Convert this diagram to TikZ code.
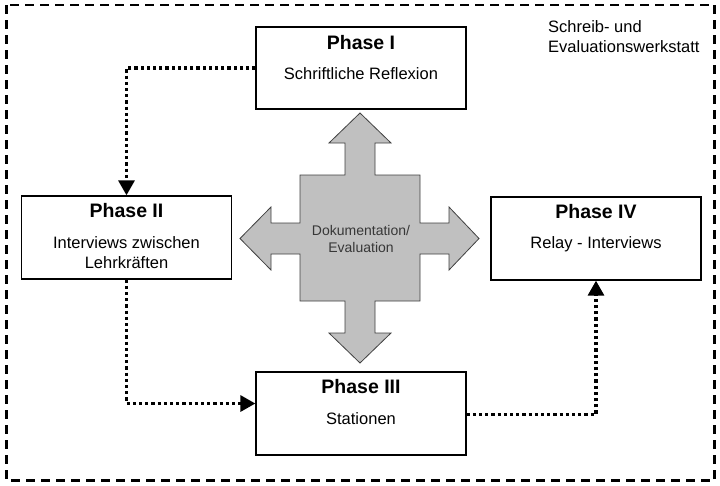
\documentclass[tikz,border=0pt]{standalone}
\usepackage{fontspec}
\setmainfont{Liberation Sans}
\usetikzlibrary{arrows.meta}
\definecolor{crossgray}{RGB}{192,192,192}
\definecolor{crosstext}{RGB}{55,55,55}
\begin{document}
\begin{tikzpicture}[x=1pt,y=-1pt,
  phasebox/.style={draw=black, line width=1.3pt, fill=white, minimum width=210pt, minimum height=83pt, inner sep=0pt},
  phasetitle/.style={anchor=base, inner sep=0pt, font=\fontsize{19.5}{22}\selectfont\bfseries},
  phasebody/.style={anchor=base, inner sep=0pt, font=\fontsize{16.5}{20}\selectfont},
  crosslabel/.style={anchor=base, inner sep=0pt, text=crosstext, font=\fontsize{14}{17}\selectfont},
  flow/.style={line width=3.2pt, dash pattern=on 3.2pt off 3pt, -{Triangle[width=16pt,length=15pt]}},
]
\useasboundingbox (0,0) rectangle (720,485);
% outer frame
\draw[line width=2.2pt, dash pattern=on 9pt off 6pt] (6.5,5) rectangle (714.5,480.5);
\node[phasebody, anchor=base west] (w1) at (548,32) {Schreib- und};
\node[phasebody, anchor=base west] (w2) at (548,52) {Evaluationswerkstatt};

% cross
\draw[fill=crossgray, draw=black!75, line width=0.8pt]
  (345,175) -- (345,143) -- (329,143) -- (360,113) -- (391,143) -- (375,143) -- (375,175)
  -- (420,175) -- (420,223) -- (449,223) -- (449,207) -- (479,238.5) -- (449,270) -- (449,254) -- (420,254)
  -- (420,301) -- (375,301) -- (375,333) -- (391,333) -- (360,363) -- (329,333) -- (345,333) -- (345,301)
  -- (300,301) -- (300,254) -- (271,254) -- (271,270) -- (240,238.5) -- (271,207) -- (271,223) -- (300,223)
  -- (300,175) -- cycle;
\node[crosslabel] (doc1) at (361,235) {Dokumentation/};
\node[crosslabel] (doc2) at (361,252) {Evaluation};

% phase boxes
\node[phasebox, minimum height=82pt] (p1) at (361,68) {};
\node[phasebox] (p2) at (126.5,237.5) {};
\node[phasebox] (p4) at (596,238.5) {};
\node[phasebox] (p3) at (361,413.5) {};

\node[phasetitle] (t1) at ([yshift=-23pt]p1.north) {Phase I};
\node[phasebody] (s1) at ([yshift=-53pt]p1.north) {Schriftliche Reflexion};
\node[phasetitle] (t2) at ([yshift=-22pt]p2.north) {Phase II};
\node[phasebody] (s2a) at ([yshift=-53pt]p2.north) {Interviews zwischen};
\node[phasebody] (s2b) at ([yshift=-73pt]p2.north) {Lehrkräften};
\node[phasetitle] (t4) at ([yshift=-22pt]p4.north) {Phase IV};
\node[phasebody] (s4) at ([yshift=-52pt]p4.north) {Relay - Interviews};
\node[phasetitle] (t3) at ([yshift=-22pt]p3.north) {Phase III};
\node[phasebody] (s3) at ([yshift=-53pt]p3.north) {Stationen};

% dotted flows
\draw[flow] (p1.west) -| (p2.north);
\draw[flow] (p2.south) |- ([yshift=10pt]p3.west);
\draw[flow] ([yshift=-1pt]p3.east) -| (p4.south);
\end{tikzpicture}
\end{document}
